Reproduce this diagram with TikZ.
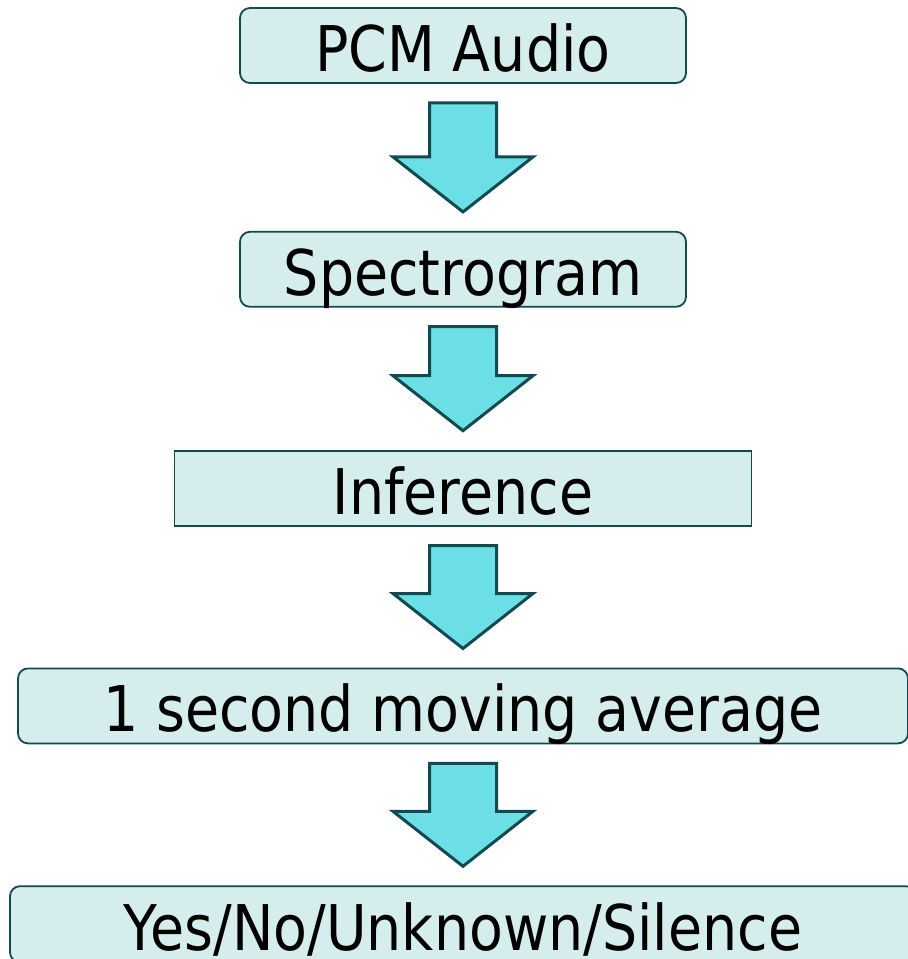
\documentclass[tikz,border=0pt]{standalone}
\usepackage{fontspec}
\setmainfont[FakeStretch=0.88]{DejaVu Sans}
\usetikzlibrary{positioning, calc}

\definecolor{boxfill}{HTML}{D6EDED}
\definecolor{arrowfill}{HTML}{6CDFE6}
\definecolor{edgeteal}{HTML}{124A50}

% fat block arrow from the bottom of one stage to the top of the next
\newcommand{\flowarrow}[2]{%
  \draw[blockarrow] ($(#1.south)+(-33.5,-19)$) -- ($(#1.south)+(33.5,-19)$)
    -- ($(#2.north)+(33.5,74)$) -- ($(#2.north)+(70,74)$) -- ($(#2.north)+(0,19)$)
    -- ($(#2.north)+(-70,74)$) -- ($(#2.north)+(-33.5,74)$) -- cycle;}

\begin{document}
\begin{tikzpicture}[x=1pt, y=1pt,
    stage/.style={rectangle, draw=edgeteal, fill=boxfill, line width=1.8pt, rounded corners=10pt, minimum height=75pt, inner sep=0pt, text height=52pt, text depth=0pt, font=\fontsize{63pt}{70pt}\selectfont},
    blockarrow/.style={draw=edgeteal, fill=arrowfill, line width=3pt, line join=miter}
]
    \useasboundingbox (0,0) rectangle (908,-959);

    \node[stage, minimum width=446pt] (pcm) at (463,-45.5) {PCM Audio};
    \node[stage, minimum width=446pt, below=147pt of pcm] (spec) {Spectrogram};
    \node[stage, sharp corners, minimum width=577pt, below=142pt of spec] (infer) {Inference};
    \node[stage, minimum width=890pt, below=141pt of infer] (avg) {1 second moving average};
    \node[stage, minimum width=906pt, minimum height=76pt, below=141pt of avg] (result) {Yes/No/Unknown/Silence};

    \flowarrow{pcm}{spec}
    \flowarrow{spec}{infer}
    \flowarrow{infer}{avg}
    \flowarrow{avg}{result}
\end{tikzpicture}
\end{document}
